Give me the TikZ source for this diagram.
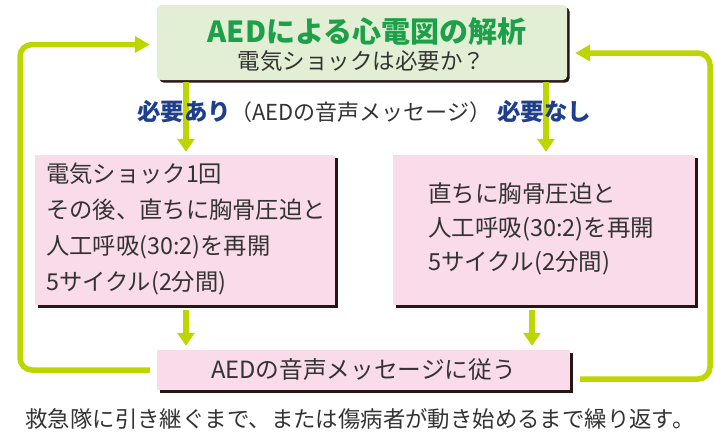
\documentclass[tikz,border=0pt]{standalone}
\usepackage{fontspec}
\usetikzlibrary{arrows.meta,shadows,calc}
\newfontfamily\jp{Noto Sans CJK JP}
\definecolor{aedgreen}{HTML}{1DA04A}
\definecolor{linegreen}{HTML}{BDD600}
\definecolor{boxgreen}{HTML}{E3EFD4}
\definecolor{boxpink}{HTML}{F9DBE9}
\definecolor{labelblue}{HTML}{1E3F8E}
\definecolor{inkgray}{HTML}{333333}
\definecolor{shadowink}{HTML}{2A1414}

\tikzset{
  boxshadow/.style={drop shadow={shadow xshift=2.5pt,shadow yshift=-2.5pt,fill=shadowink,opacity=1}},
  topbox/.style={fill=boxgreen,rounded corners=4pt,boxshadow,inner sep=0pt},
  pinkbox/.style={fill=boxpink,boxshadow,inner sep=0pt},
  flow/.style={linegreen,line width=6pt,-{Triangle[length=13pt,width=17pt]}},
  loopline/.style={linegreen,line width=5.5pt,rounded corners=12pt,-{Triangle[length=15pt,width=16pt]}},
  txt/.style={text=inkgray,inner sep=0pt},
  bluelabel/.style={text=labelblue,inner sep=0pt,font=\jp\bfseries\fontsize{23.5}{27}\selectfont},
}

\begin{document}
\begin{tikzpicture}[x=1pt,y=-1pt]
  \useasboundingbox (0,0) rectangle (715,439);

  % boxes
  \node[topbox,minimum width=410pt,minimum height=75pt] (anl) at (362,42.5) {};
  \node[pinkbox,minimum width=300pt,minimum height=150pt] (shock) at (185,230) {};
  \node[pinkbox,minimum width=302pt,minimum height=150pt] (cpr) at (544,230) {};
  \node[pinkbox,minimum width=413pt,minimum height=40pt] (act) at (363.5,370) {};

  % texts in the boxes
  \node[text=aedgreen,inner sep=0pt,font=\jp\bfseries\fontsize{29}{33}\selectfont] (title) at (367,31) {AEDによる心電図の解析};
  \node[txt,font=\jp\fontsize{22.5}{26}\selectfont] (ask) at (361.5,61) {電気ショックは必要か？};
  \node[txt,anchor=west,align=left,font=\jp\fontsize{23.3}{35.7}\selectfont] (shocktext) at (46,229)
    {電気ショック1回\\その後、直ちに胸骨圧迫と\\人工呼吸(30:2)を再開\\5サイクル(2分間)};
  \node[txt,anchor=west,align=left,font=\jp\fontsize{23.5}{34}\selectfont] (cprtext) at (428,229)
    {直ちに胸骨圧迫と\\人工呼吸(30:2)を再開\\5サイクル(2分間)};
  \node[txt,font=\jp\fontsize{23.7}{27}\selectfont] (acttext) at (act.center) {AEDの音声メッセージに従う};

  % connectors
  \coordinate (lx) at (186,0);
  \coordinate (rx) at (546,0);
  \coordinate (rx2) at (532,0);
  \draw[flow,shorten <=2pt,shorten >=3pt] (lx |- anl.south) -- (lx |- shock.north);
  \draw[flow,shorten <=2pt,shorten >=3pt] (rx |- anl.south) -- (rx |- cpr.north);
  \draw[flow,shorten <=5pt,shorten >=4pt] (lx |- shock.south) -- (lx |- act.north);
  \draw[flow,shorten <=5pt,shorten >=4pt] (rx2 |- cpr.south) -- (rx2 |- act.north);

  \coordinate (lbot) at (20,370);
  \coordinate (ltop) at (20,44.5);
  \coordinate (rbot) at (710,379);
  \coordinate (rtop) at (710,53);
  \draw[loopline,shorten <=7pt,shorten >=7pt] (act.west) -- (lbot) -- (ltop) -- (anl.west |- ltop);
  \draw[loopline,shorten <=10pt,shorten >=8pt] (act.east |- rbot) -- (rbot) -- (rtop) -- (anl.east |- rtop);

  % branch labels
  \node[bluelabel,anchor=west] (yes) at (137,112) {必要あり};
  \node[txt,anchor=west,font=\jp\fontsize{22}{26}\selectfont] (voice) at (230,112) {（AEDの音声メッセージ）};
  \node[bluelabel,anchor=west] (no) at (497,112) {必要なし};

  % caption
  \node[txt,font=\jp\fontsize{22.4}{26}\selectfont] (repeat) at (360,419) {救急隊に引き継ぐまで、または傷病者が動き始めるまで繰り返す。};
\end{tikzpicture}
\end{document}
